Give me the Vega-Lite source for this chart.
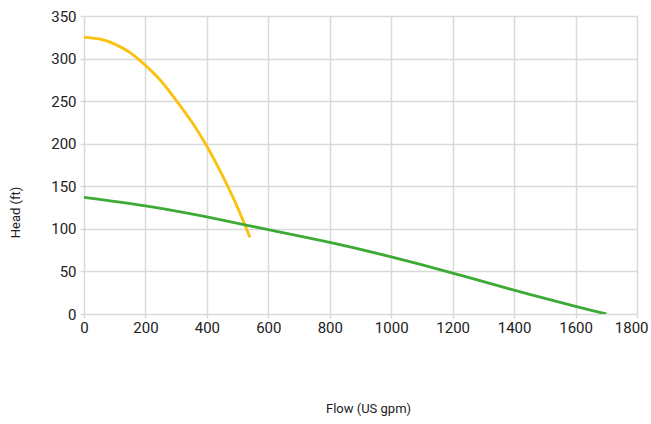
{
  "$schema": "https://vega.github.io/schema/vega-lite/v6.json",
  "width": 553,
  "height": 298,
  "autosize": {"type": "none"},
  "padding": {"left": 84, "top": 16, "right": 14, "bottom": 110},
  "background": "white",
  "config": {
    "view": {"stroke": null},
    "font": "Roboto",
    "axis": {
      "labelFont": "Roboto",
      "titleFont": "Roboto",
      "labelFontSize": 15,
      "titleFontSize": 13,
      "labelColor": "#222222",
      "titleColor": "#222222",
      "titleFontWeight": "normal",
      "gridColor": "#d9d9d9",
      "gridWidth": 1.5,
      "tickColor": "#d9d9d9",
      "tickWidth": 1.5,
      "tickSize": 4,
      "domain": false
    }
  },
  "data": {
    "values": [
      {"flow": 0, "head": 325, "series": "A"},
      {"flow": 50, "head": 323, "series": "A"},
      {"flow": 100, "head": 317, "series": "A"},
      {"flow": 150, "head": 307, "series": "A"},
      {"flow": 200, "head": 292, "series": "A"},
      {"flow": 250, "head": 274, "series": "A"},
      {"flow": 300, "head": 251, "series": "A"},
      {"flow": 350, "head": 226, "series": "A"},
      {"flow": 400, "head": 197, "series": "A"},
      {"flow": 450, "head": 163, "series": "A"},
      {"flow": 500, "head": 125, "series": "A"},
      {"flow": 540, "head": 90, "series": "A"},
      {"flow": 0, "head": 137, "series": "B"},
      {"flow": 200, "head": 127, "series": "B"},
      {"flow": 400, "head": 114, "series": "B"},
      {"flow": 600, "head": 99, "series": "B"},
      {"flow": 800, "head": 84, "series": "B"},
      {"flow": 1000, "head": 67, "series": "B"},
      {"flow": 1200, "head": 48, "series": "B"},
      {"flow": 1400, "head": 28, "series": "B"},
      {"flow": 1600, "head": 9, "series": "B"},
      {"flow": 1700, "head": 0, "series": "B"}
    ]
  },
  "mark": {"type": "line", "interpolate": "natural", "strokeWidth": 2.8, "clip": true},
  "encoding": {
    "x": {
      "field": "flow",
      "type": "quantitative",
      "scale": {"domain": [0, 1800], "nice": false, "zero": false},
      "axis": {
        "values": [0,200,400,600,800,1000,1200,1400,1600,1800],
        "format": "d",
        "title": "Flow (US gpm)",
        "titleY": 94,
        "titleX": 284,
        "titleBaseline": "middle",
        "labelPadding": 2,
        "labelFlush": false,
        "labelBound": false,
        "labelAlign": {"condition": {"test": "datum.value === 1800", "value": "right"}, "value": "center"},
        "labelOffset": {"condition": {"test": "datum.value === 1800", "value": 11}, "value": 0}
      }
    },
    "y": {
      "field": "head",
      "type": "quantitative",
      "scale": {"domain": [0, 350], "nice": false},
      "axis": {"values": [0,50,100,150,200,250,300,350], "title": "Head (ft)", "titleX": -69, "titleY": 196, "titleBaseline": "middle", "labelPadding": 4}
    },
    "color": {
      "field": "series",
      "type": "nominal",
      "scale": {"domain": ["A", "B"], "range": ["#FBC10D", "#3DAA35"]},
      "legend": null
    }
  }
}
